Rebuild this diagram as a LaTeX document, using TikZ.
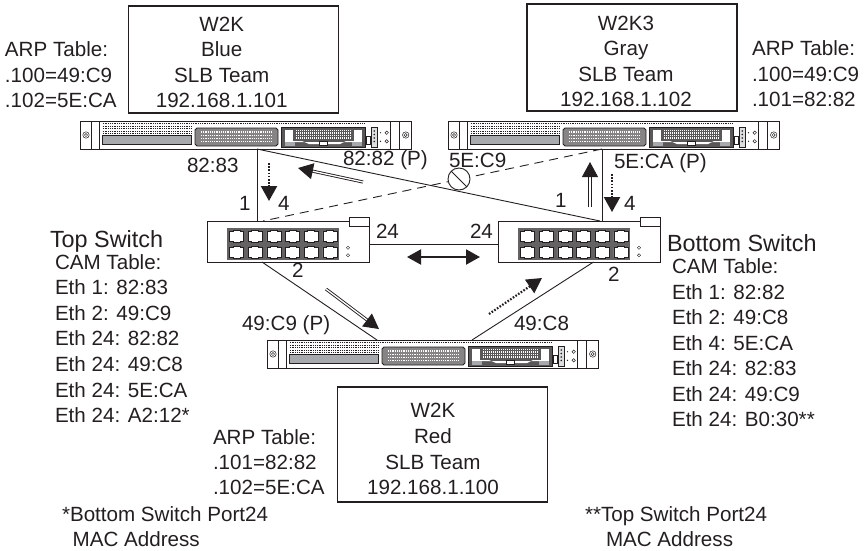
\documentclass[tikz,border=0pt]{standalone}
\usepackage{fontspec}
\setmainfont{Liberation Sans}
\usepackage{xcolor}
\usetikzlibrary{arrows.meta}
\definecolor{inkc}{HTML}{231F20}
\definecolor{panelc}{HTML}{A7A9AC}

\tikzset{
    lbl/.style={anchor=base west,inner sep=0pt,outer sep=0pt,text=inkc,font=\fontsize{20.6}{25}\selectfont},
    title/.style={lbl,font=\fontsize{23.4}{26}\selectfont},
    teambox/.style={draw=inkc,line width=1.4pt,inner sep=0pt,outer sep=0pt,minimum width=210pt},
    teamtxt/.style={lbl,anchor=base},
    rackbox/.style={draw=inkc,line width=0.7pt,fill=white,inner sep=0pt,outer sep=0pt,anchor=north west,
        minimum width=331pt,minimum height=28pt},
    swbox/.style={draw=inkc,line width=0.7pt,fill=white,inner sep=0pt,outer sep=0pt,anchor=north west,
        minimum width=162pt,minimum height=41pt},
    wire/.style={draw=inkc,line width=0.9pt},
    flowdot/.style={draw=inkc,line width=2.2pt,dash pattern=on 1.6pt off 1.6pt,-{Triangle[length=15pt,width=16pt]}},
    flowdbl/.style={draw=inkc,line width=0.9pt,double=white,double distance=1.3pt,-{Triangle[length=15pt,width=16pt]}},
    blocked/.style={draw=inkc,line width=0.9pt,circle,fill=white,minimum size=22pt,inner sep=0pt,outer sep=0pt},
    rackface/.pic={
        \draw[inkc,line width=0.6pt] (11.7,0)--(11.7,28) (19.3,0)--(19.3,28) (310,0)--(310,28) (319,0)--(319,28);
        \draw[inkc,line width=0.5pt] (6,14) circle (3.2) (6,14) circle (1.6) (325.7,14) circle (3.2) (325.7,14) circle (1.6);
        % vent holes
        \draw[inkc,line width=1.2pt,dash pattern=on 1pt off 0.8pt] (22.7,2.7)--(285,2.7);
        \foreach \r in {5.5,7.8,10.1,12.2}
            \draw[inkc,line width=1.2pt,dash pattern=on 1pt off 0.8pt] (22.7,\r)--(111.7,\r);
        \fill[panelc,draw=inkc,line width=0.5pt] (22.7,14.6) rectangle (111.7,23.6);
        % connector
        \fill[inkc!55,draw=inkc,line width=0.8pt] (115,9)--(117,7)--(196,7)--(198,9)--(198,23)--(196,25)--(117,25)--(115,23)--cycle;
        \foreach \r in {11,14.3,17.6,20.6}
            \draw[white,line width=1.3pt,dash pattern=on 1.2pt off 1pt] (121,\r)--(192,\r);
        % drive
        \fill[inkc!75,draw=inkc,line width=0.6pt] (201.7,6.5) rectangle (285,26);
        \fill[white] (205,8.5) rectangle (213,21);
        \fill[white] (274,8.5) rectangle (282,21);
        \foreach \r in {9.5,12,14.5,17}
            \draw[white,line width=1.2pt,dash pattern=on 1pt off 1pt] (216,\r)--(272,\r);
        \fill[white] (209,20) -- (222,20) -- (229,23) -- (260,23) -- (266,20) -- (278,20) -- (278,21) -- (209,21) -- cycle;
        \fill[panelc] (205,20.5) rectangle (215,25);
        \fill[panelc] (272,20.5) rectangle (282,25);
        \fill[white,draw=inkc,line width=0.3pt] (239,20.5) rectangle (247,24);
        % small parts
        \draw[inkc,line width=0.5pt] (286.7,15) rectangle (290,23.5);
        \draw[inkc,line width=0.5pt,fill=panelc!40] (291.7,6.7) rectangle (297,26.7);
        \foreach \r in {10,13.5,17,20.5}
            \fill[inkc] (294.3,\r) circle (0.9);
        \draw[inkc,line width=0.5pt] (306.7,11.7) circle (1.7) (306.7,20.3) circle (1.7);
        \fill[inkc] (300.5,11.7) circle (0.7) (300.5,20.3) circle (0.7);
    },
    swface/.pic={
        \draw[inkc,line width=0.7pt,fill=white] (142,-4) rectangle (162,5.3);
        \fill[inkc!70] (20,7) rectangle (132,39);
        \foreach \c in {0,...,5}
            \foreach \r in {0,1}
                \fill[white,draw=inkc,line width=0.5pt,xshift=\c*18.67pt,yshift=-\r*16pt]
                    (22.5,10.5)--(26,10.5)--(26,9.5)--(33,9.5)--(33,10.5)--(36.5,10.5)--(36.5,20)--(33,20)--(33,21.5)--(26,21.5)--(26,20)--(22.5,20)--cycle;
        \draw[inkc,line width=0.4pt] (141,26.7) circle (1.6) (141,34.3) circle (1.6);
    }
}

\begin{document}
\begin{tikzpicture}[x=1pt,y=-1pt]
\useasboundingbox (0,0) rectangle (866,550);

    % team boxes
    \node[teambox,minimum height=107pt] (bluebox) at (233.5,59.5) {};
    \foreach \i/\y/\t in {1/31.7/W2K,2/56.7/Blue,3/82/SLB Team,4/107.3/192.168.1.101}
        \node[teamtxt] (bluetxt\i) at (221.7,\y) {\t};
    \node[teambox,minimum height=107pt] (graybox) at (632,57.5) {};
    \foreach \i/\y/\t in {1/30/W2K3,2/55/Gray,3/81/SLB Team,4/106.5/192.168.1.102}
        \node[teamtxt] (graytxt\i) at (626,\y) {\t};
    \node[teambox,minimum height=115pt] (redbox) at (442.5,444.5) {};
    \foreach \i/\y/\t in {1/417.7/W2K,2/443/Red,3/469/SLB Team,4/494/192.168.1.100}
        \node[teamtxt] (redtxt\i) at (433,\y) {\t};

    % servers and switches
    \node[rackbox] (blue) at (80,121) {};
    \node[rackbox] (gray) at (448,121) {};
    \node[rackbox] (red) at (267,340) {};
    \node[swbox] (topsw) at (207,221) {};
    \node[swbox] (botsw) at (498,221) {};
    \pic at (blue.north west) {rackface};
    \pic at (gray.north west) {rackface};
    \pic at (red.north west) {rackface};
    \pic at (topsw.north west) {swface};
    \pic at (botsw.north west) {swface};

    % links
    \draw[wire] ([xshift=11.5pt]blue.south)--([xshift=-31pt]topsw.north);
    \draw[wire] ([xshift=11.5pt]blue.south)--([xshift=21pt]botsw.north);
    \draw[wire] ([xshift=-11.5pt]gray.south)--([xshift=23pt]botsw.north);
    \draw[wire,dashed,dash pattern=on 9pt off 6pt] ([xshift=-11.5pt]gray.south)--([xshift=-25pt]topsw.north);
    \draw[wire] ([yshift=-2.5pt]topsw.east)--([yshift=-2.5pt]botsw.west);
    \draw[wire] ([xshift=-26pt]topsw.south)--([xshift=-55.5pt]red.north);
    \draw[wire] ([xshift=14.5pt]botsw.south)--([xshift=39.5pt]red.north);
    \node[blocked] (block) at (459,179) {};
    \draw[wire] (block.north west)--(block.south east);

    % flow arrows
    \coordinate (a1) at (269,163);
    \coordinate (a2) at (269,201);
    \coordinate (b1) at (363,182);
    \coordinate (b2) at (298,168);
    \coordinate (c1) at (590,207);
    \coordinate (c2) at (590,162);
    \coordinate (d1) at (612,174);
    \coordinate (d2) at (612,212);
    \coordinate (e1) at (407,257);
    \coordinate (e2) at (480,257);
    \coordinate (f1) at (326,289);
    \coordinate (f2) at (379,329);
    \coordinate (g1) at (489,314);
    \coordinate (g2) at (542,278);
    \draw[flowdot] (a1)--(a2);
    \draw[flowdbl] (b1)--(b2);
    \draw[flowdbl] (c1)--(c2);
    \draw[flowdot] (d1)--(d2);
    \draw[draw=inkc,line width=2pt,{Triangle[length=14pt,width=15pt]}-{Triangle[length=14pt,width=15pt]}] (e1)--(e2);
    \draw[flowdbl] (f1)--(f2);
    \draw[flowdot] (g1)--(g2);

    % port and address labels
    \node[lbl] (macblue) at (187,172.3) {82:83};
    \node[lbl] (macbluep) at (343,165) {82:82 (P)};
    \node[lbl] (pa) at (239,210.7) {1};
    \node[lbl] (pb) at (278,210.7) {4};
    \node[lbl] (pc) at (376,238) {24};
    \node[lbl] (pd) at (292,277.7) {2};
    \node[lbl] (macgray) at (449,167.7) {5E:C9};
    \node[lbl] (macgrayp) at (614,168.3) {5E:CA (P)};
    \node[lbl] (pe) at (555,207.7) {1};
    \node[lbl] (pf) at (624,210) {4};
    \node[lbl] (pg) at (470,238) {24};
    \node[lbl] (ph) at (608,281.7) {2};
    \node[lbl] (macredp) at (242,330) {49:C9 (P)};
    \node[lbl] (macred) at (514,330.7) {49:C8};

    % ARP tables
    \node[lbl] (arpa) at (5,56.7) {ARP Table:};
    \node[lbl] (arpb) at (5,82.7) {.100=49:C9};
    \node[lbl] (arpc) at (5,107.3) {.102=5E:CA};
    \node[lbl] (arpd) at (752,55) {ARP Table:};
    \node[lbl] (arpe) at (752,81) {.100=49:C9};
    \node[lbl] (arpf) at (752,106.5) {.101=82:82};
    \node[lbl] (arpg) at (213,444) {ARP Table:};
    \node[lbl] (arph) at (213,469) {.101=82:82};
    \node[lbl] (arpi) at (213,494) {.102=5E:CA};

    % CAM tables
    \node[title] (toptitle) at (50,247) {Top Switch};
    \node[lbl] (topcam) at (55,269) {CAM Table:};
    \foreach \i/\y/\t in {1/294/Eth 1: 82:83,2/320/Eth 2: 49:C9,3/345/Eth 24: 82:82,4/371/Eth 24: 49:C8,5/397/Eth 24: 5E:CA,6/422/Eth 24: A2:12*}
        \node[lbl] (topeth\i) at (55,\y) {\t};
    \node[title] (bottitle) at (667,251.7) {Bottom Switch};
    \node[lbl] (botcam) at (672,273.7) {CAM Table:};
    \foreach \i/\y/\t in {1/299/Eth 1: 82:82,2/324/Eth 2: 49:C8,3/350/Eth 4: 5E:CA,4/375/Eth 24: 82:83,5/401/Eth 24: 49:C9,6/426.7/Eth 24: B0:30**}
        \node[lbl] (boteth\i) at (672,\y) {\t};

    % footnotes
    \node[lbl] (noteb) at (62,521) {*Bottom Switch Port24};
    \node[lbl] (notec) at (72.7,546.7) {MAC Address};
    \node[lbl] (noted) at (585,521) {**Top Switch Port24};
    \node[lbl] (notee) at (606,546.7) {MAC Address};

\end{tikzpicture}
\end{document}
